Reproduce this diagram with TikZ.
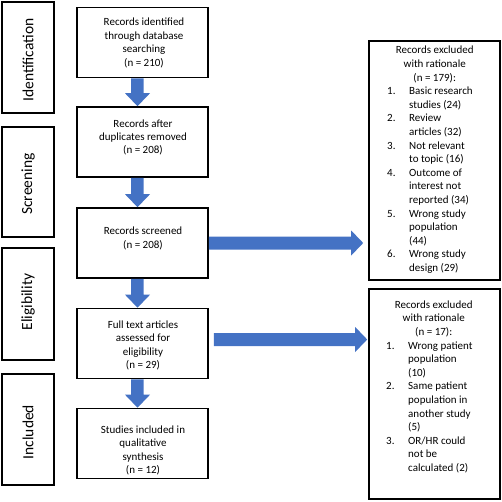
\documentclass[tikz,border=0pt]{standalone}
\usepackage{fontspec}
\setmainfont{Carlito}
\usetikzlibrary{calc}
\definecolor{arrowblue}{RGB}{68,114,196}
\tikzset{
  stagebox/.style={draw=black, line width=1.6pt, minimum width=52pt, minimum height=#1, inner sep=0pt},
  flowbox/.style={draw=black, line width=1.6pt, minimum width=131pt, minimum height=70pt, inner sep=0pt},
  sidebox/.style={draw=black, line width=1.6pt, minimum width=131pt, minimum height=#1, inner sep=0pt},
  stagetext/.style={rotate=90, font=\fontsize{15.5}{18}\selectfont, inner sep=0pt},
  flowtext/.style={align=center, font=\fontsize{11}{13.4}\selectfont, inner sep=0pt},
  sidetext/.style={align=left, anchor=north west, font=\fontsize{11}{13.6}\selectfont, inner sep=0pt},
  fatarrow/.style={fill=arrowblue, draw=none}
}
\newcommand{\itm}[1]{\makebox[22pt][l]{#1}}
\newcommand{\ind}{\hspace*{22pt}}
\newcommand{\ttl}[1]{\makebox[95pt]{#1}}
\begin{document}
\begin{tikzpicture}[x=1pt,y=-1pt]
\useasboundingbox (0,0) rectangle (502,501);
% stage boxes
\node[stagebox=111pt] (sI) at (28,57.5) {};
\node[stagetext] (tI) at (28,60) {Identification};
\node[stagebox=110pt] (sS) at (28,182) {};
\node[stagetext] (tS) at (28,184) {Screening};
\node[stagebox=112pt] (sE) at (28,304) {};
\node[stagetext] (tE) at (28,302) {Eligibility};
\node[stagebox=111pt] (sN) at (28,429.5) {};
\node[stagetext] (tN) at (28,432) {Included};
% flow boxes
\node[flowbox] (b1) at (142.5,42.5) {};
\node[flowtext] (t1) at (144,43) {Records identified\\through database\\searching\\(n = 210)};
\node[flowbox] (b2) at (142.5,142) {};
\node[flowtext] (t2) at (143,137.5) {Records after\\duplicates removed\\(n = 208)};
\node[flowbox] (b3) at (142.5,243) {};
\node[flowtext] (t3) at (143,238.5) {Records screened\\(n = 208)};
\node[flowbox] (b4) at (142.5,343.5) {};
\node[flowtext] (t4) at (143,345.5) {Full text articles\\assessed for\\eligibility\\(n = 29)};
\node[flowbox] (b5) at (142.5,443.5) {};
\node[flowtext] (t5) at (143,450.5) {Studies included in\\qualitative\\synthesis\\(n = 12)};
% side boxes
\node[sidebox=239pt] (r1) at (434.5,160.5) {};
\node[sidetext] (rt1) at (387,46) {\ttl{Records excluded}\\\ttl{with rationale}\\\ttl{(n = 179):}\\
\itm{1.}Basic research\\\ind studies (24)\\
\itm{2.}Review\\\ind articles (32)\\
\itm{3.}Not relevant\\\ind to topic (16)\\
\itm{4.}Outcome of\\\ind interest not\\\ind reported (34)\\
\itm{5.}Wrong study\\\ind population\\\ind (44)\\
\itm{6.}Wrong study\\\ind design (29)};
\node[sidebox=210pt] (r2) at (434.5,394) {};
\node[sidetext] (rt2) at (386,300.5) {\ttl{Records excluded}\\\ttl{with rationale}\\\ttl{(n = 17):}\\
\itm{1.}Wrong patient\\\ind population\\\ind (10)\\
\itm{2.}Same patient\\\ind population in\\\ind another study\\\ind (5)\\
\itm{3.}OR/HR could\\\ind not be\\\ind calculated (2)};
% vertical arrows
\foreach \a/\b in {b1/b2, b2/b3, b3/b4, b4/b5} {
  \fill[fatarrow]
    ([xshift=-11.5pt]\a.south) -- ([xshift=1pt]\a.south)
    -- ([xshift=1pt,yshift=13pt]\b.north) -- ([xshift=7.5pt,yshift=13pt]\b.north)
    -- ([xshift=-5pt]\b.north)
    -- ([xshift=-17.5pt,yshift=13pt]\b.north) -- ([xshift=-11.5pt,yshift=13pt]\b.north) -- cycle;
}
% horizontal arrows
\coordinate (tipA) at ([xshift=-5pt]r1.west |- b3.east);
\fill[fatarrow]
  ([yshift=6.5pt]b3.east) -- ([yshift=-6.5pt]b3.east)
  -- ([xshift=-12pt,yshift=-6.5pt]tipA) -- ([xshift=-12pt,yshift=-12.5pt]tipA)
  -- (tipA)
  -- ([xshift=-12pt,yshift=12.5pt]tipA) -- ([xshift=-12pt,yshift=6.5pt]tipA) -- cycle;
\coordinate (startB) at ([xshift=5pt,yshift=4pt]b4.east);
\coordinate (tipB) at ([xshift=-1pt]r2.west |- startB);
\fill[fatarrow]
  ([yshift=6.5pt]startB) -- ([yshift=-6.5pt]startB)
  -- ([xshift=-12pt,yshift=-6.5pt]tipB) -- ([xshift=-12pt,yshift=-12.5pt]tipB)
  -- (tipB)
  -- ([xshift=-12pt,yshift=12.5pt]tipB) -- ([xshift=-12pt,yshift=6.5pt]tipB) -- cycle;
\end{tikzpicture}
\end{document}
